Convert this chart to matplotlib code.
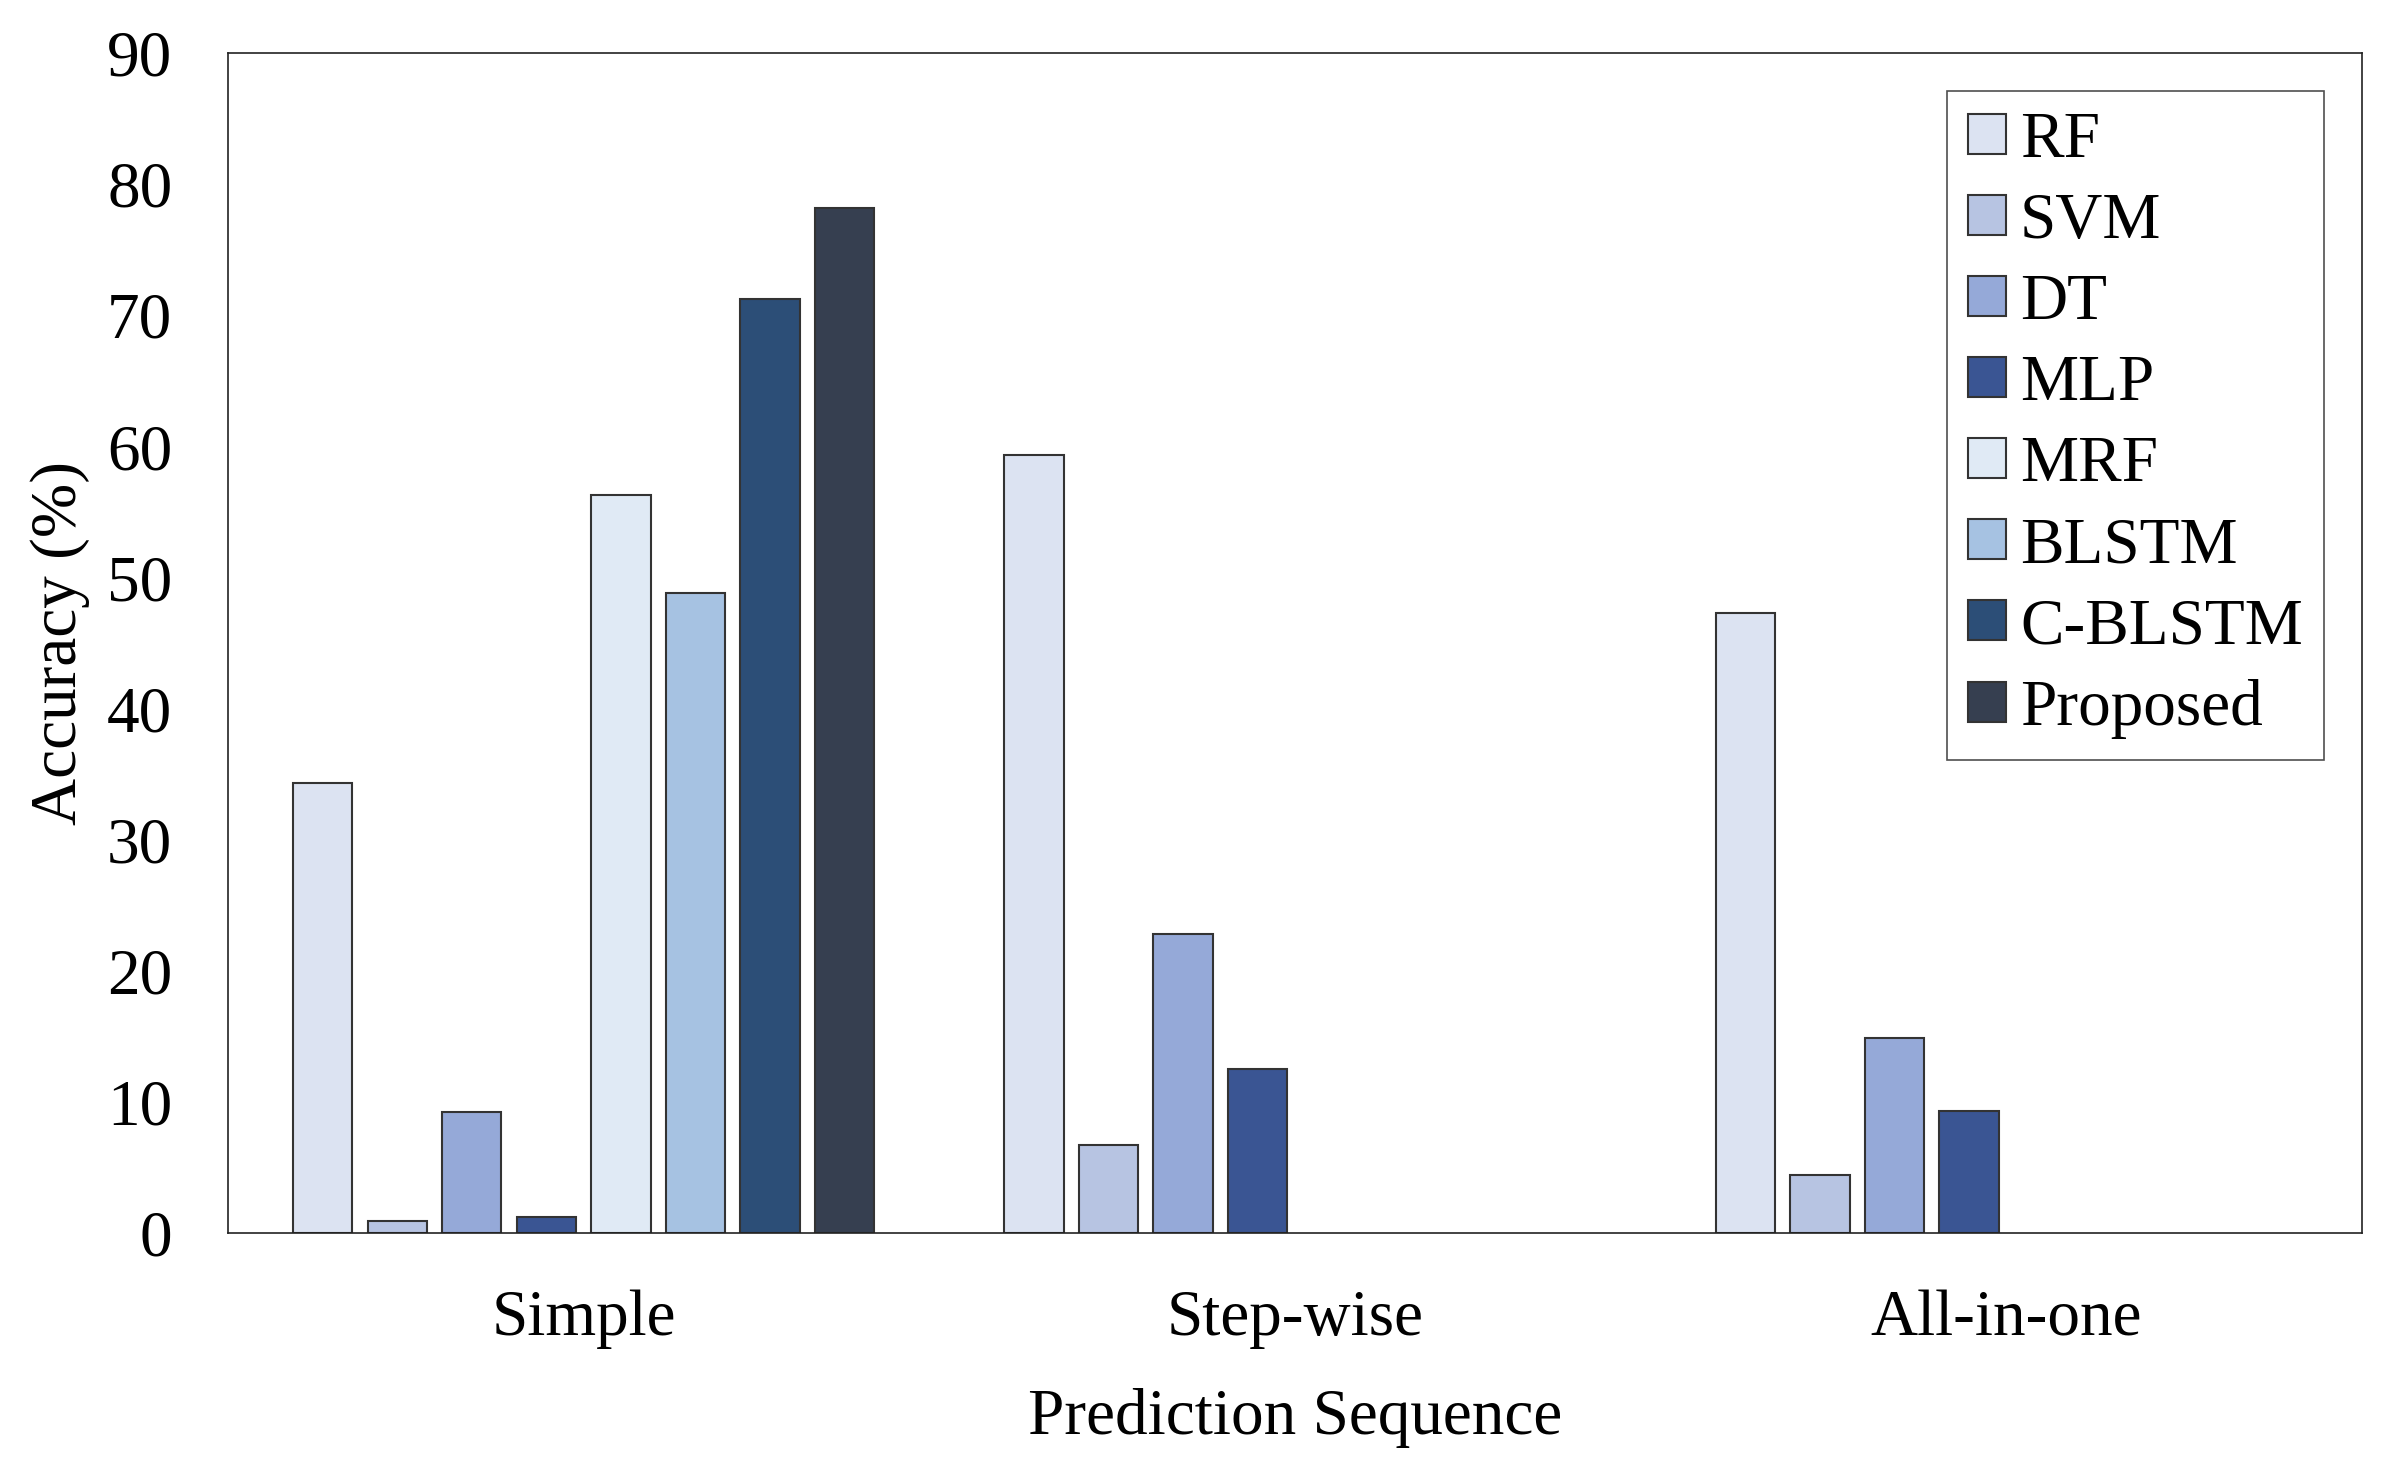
import matplotlib
matplotlib.use("Agg")
import matplotlib.pyplot as plt
import numpy as np

categories = ["Simple", "Step-wise", "All-in-one"]
methods = ["RF", "SVM", "DT", "MLP", "MRF", "BLSTM", "C-BLSTM", "Proposed"]
RF = [34.3, 59.3, 47.3]
SVM = [0.9, 6.7, 4.4]
DT = [9.2, 22.8, 14.9]
MLP = [1.2, 12.5, 9.3]
MRF = [56.3, 0, 0]
BLSTM = [48.8, 0, 0]
C_BLSTM = [71.2, 0, 0]
Proposed = [78.2, 0, 0]
series = [RF, SVM, DT, MLP, MRF, BLSTM, C_BLSTM, Proposed]
colors = ["#dce3f2", "#b7c4e2", "#95a9d8", "#3a5593",
          "#e0eaf5", "#a6c2e2", "#2c4e77", "#363f50"]
yticks = [0, 10, 20, 30, 40, 50, 60, 70, 80, 90]

plt.rcParams['font.family'] = ['Liberation Serif', 'DejaVu Serif']

fig = plt.figure(figsize=(23.87, 14.73), dpi=100)
ax = fig.add_axes([0.0955, 0.163, 0.894, 0.801])

x = np.arange(len(categories))
step = 0.1048
width = 0.0834
for i, (vals, c, m) in enumerate(zip(series, colors, methods)):
    xs = x + (i - 3.5) * step
    vv = np.array(vals, dtype=float)
    mask = vv > 0
    ax.bar(xs[mask], vv[mask], width=width, color=c, edgecolor="#333333",
           linewidth=1.5, label=m)

FS = 47
ax.set_xlim(-0.5, 2.5)
ax.set_ylim(0, 90)
ax.set_yticks(yticks)
ax.set_xticks(x)
ax.set_xticklabels(categories, fontsize=FS)
ax.tick_params(axis='y', labelsize=FS, length=0, pad=40)
ax.tick_params(axis='x', length=0, pad=41)
ax.set_xlabel("Prediction Sequence", fontsize=FS, labelpad=28)
ax.set_ylabel("Accuracy (%)", fontsize=FS, labelpad=12)
for s in ax.spines.values():
    s.set_linewidth(1.2)
    s.set_color("#222222")

leg = ax.legend(loc="upper right", fontsize=FS, frameon=True, fancybox=False,
                edgecolor="#222222", handlelength=0.57, handleheight=0.57,
                labelspacing=0.33, handletextpad=0.22, borderpad=0.32,
                borderaxespad=0, bbox_to_anchor=(0.982, 0.968))
leg.get_frame().set_linewidth(1.2)

fig.savefig("out.png", dpi=100)
